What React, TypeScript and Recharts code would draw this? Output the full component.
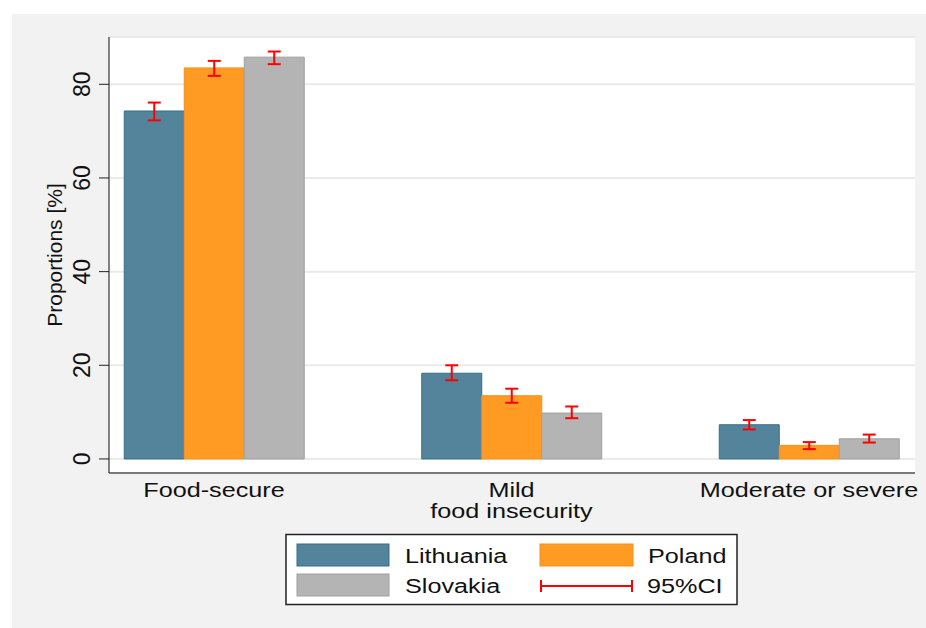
import React from 'react';
import { BarChart, Bar, XAxis, YAxis, CartesianGrid, ErrorBar } from 'recharts';

const categories = [['Food-secure'], ['Mild', 'food insecurity'], ['Moderate or severe']];
const lithuania = [74.3, 18.3, 7.3];
const poland = [83.5, 13.5, 2.9];
const slovakia = [85.8, 9.8, 4.3];
const lithuaniaLo = [72.3, 16.8, 6.3];
const lithuaniaHi = [76.1, 20.0, 8.3];
const polandLo = [81.8, 12.0, 2.1];
const polandHi = [85.0, 15.0, 3.6];
const slovakiaLo = [84.3, 8.7, 3.5];
const slovakiaHi = [87.0, 11.2, 5.2];
const yTicks = [0, 20, 40, 60, 80];

const FONT = '"Liberation Sans", Arial, Helvetica, sans-serif';
const STRETCH = 1.2;

const data = categories.map((lines, i) => ({
  name: lines.join(' '),
  lines,
  lithuania: lithuania[i],
  poland: poland[i],
  slovakia: slovakia[i],
  ltErr: [lithuania[i] - lithuaniaLo[i], lithuaniaHi[i] - lithuania[i]],
  plErr: [poland[i] - polandLo[i], polandHi[i] - poland[i]],
  skErr: [slovakia[i] - slovakiaLo[i], slovakiaHi[i] - slovakia[i]],
}));

const XTick = (props: any) => {
  const { x, y, index } = props;
  const lines = categories[index] || [];
  return (
    <g>
      {lines.map((line, i) => (
        <text
          key={i}
          transform={`translate(${x},${y + 24 + i * 21}) scale(${STRETCH},1)`}
          textAnchor="middle"
          fontFamily={FONT}
          fontSize={21}
          fill="#111"
        >
          {line}
        </text>
      ))}
    </g>
  );
};

const YTick = (props: any) => {
  const { x, y, payload } = props;
  return (
    <text
      transform={`translate(${x - 9},${y}) rotate(-90)`}
      textAnchor="middle"
      fontFamily={FONT}
      fontSize={23}
      fill="#111"
    >
      {payload.value}
    </text>
  );
};

const LegendBox = () => (
  <svg width={926} height={628} style={{ position: 'absolute', left: 0, top: 0, pointerEvents: 'none' }}>
    <rect x={286} y={534.5} width={451} height={70} fill="#fff" stroke="#222" strokeWidth={1.5} />
    <rect x={297} y={544} width={92} height={22} fill="#53849c" stroke="#356f89" />
    <rect x={540} y={544} width={93} height={22} fill="#ff9a22" stroke="#f7901a" />
    <rect x={297} y={574} width={92} height={22} fill="#b4b4b4" stroke="#a0a0a0" />
    <line x1={541} y1={586} x2={632} y2={586} stroke="#ff0000" strokeWidth={2} />
    <line x1={541} y1={580} x2={541} y2={592} stroke="#ff0000" strokeWidth={2} />
    <line x1={632} y1={580} x2={632} y2={592} stroke="#ff0000" strokeWidth={2} />
    {[
      ['Lithuania', 405, 563],
      ['Poland', 648, 563],
      ['Slovakia', 405, 593],
      ['95%CI', 647, 593],
    ].map(([t, x, y]) => (
      <text
        key={t as string}
        transform={`translate(${x},${y}) scale(${STRETCH},1)`}
        fontFamily={FONT}
        fontSize={21}
        fill="#111"
      >
        {t}
      </text>
    ))}
  </svg>
);

export default function App() {
  return (
    <div style={{ position: 'absolute', left: 0, top: 0, width: 926, height: 628, background: '#fff' }}>
      <div style={{ position: 'absolute', left: 12, top: 14, width: 914, height: 614, background: '#f2f2f2' }} />
      <div style={{ position: 'absolute', left: 0, top: 0 }}>
        <BarChart
          width={926}
          height={628}
          data={data}
          margin={{ top: 37, right: 11, bottom: 125, left: 0 }}
          barGap={0}
          barSize={60}
        >
          <CartesianGrid fill="#fff" vertical={false} stroke="#eaeaea" strokeWidth={2} />
          <XAxis
            dataKey="name"
            height={30}
            padding={{ left: -43.75, right: -42.75 }}
            tickLine={false}
            tickSize={0}
            tickMargin={0}
            axisLine={{ stroke: '#555', strokeWidth: 1.5 }}
            tick={<XTick />}
            interval={0}
          />
          <YAxis
            width={109}
            domain={[-3, 90.1]}
            ticks={yTicks}
            allowDataOverflow
            tickSize={10}
            tickMargin={0}
            tickLine={{ stroke: '#222' }}
            axisLine={{ stroke: '#333', strokeWidth: 1.2 }}
            tick={<YTick />}
          />
          <Bar dataKey="lithuania" fill="#53849c" stroke="#356f89" isAnimationActive={false}>
            <ErrorBar dataKey="ltErr" width={6.5} stroke="#ff0000" strokeWidth={2} />
          </Bar>
          <Bar dataKey="poland" fill="#ff9a22" stroke="#f7901a" isAnimationActive={false}>
            <ErrorBar dataKey="plErr" width={6.5} stroke="#ff0000" strokeWidth={2} />
          </Bar>
          <Bar dataKey="slovakia" fill="#b4b4b4" stroke="#a0a0a0" isAnimationActive={false}>
            <ErrorBar dataKey="skErr" width={6.5} stroke="#ff0000" strokeWidth={2} />
          </Bar>
        </BarChart>
      </div>
      <svg width={926} height={628} style={{ position: 'absolute', left: 0, top: 0, pointerEvents: 'none' }}>
        <text
          transform="translate(62,255) rotate(-90)"
          textAnchor="middle"
          fontFamily={FONT}
          fontSize={21}
          fill="#111"
        >
          Proportions [%]
        </text>
      </svg>
      <LegendBox />
    </div>
  );
}
